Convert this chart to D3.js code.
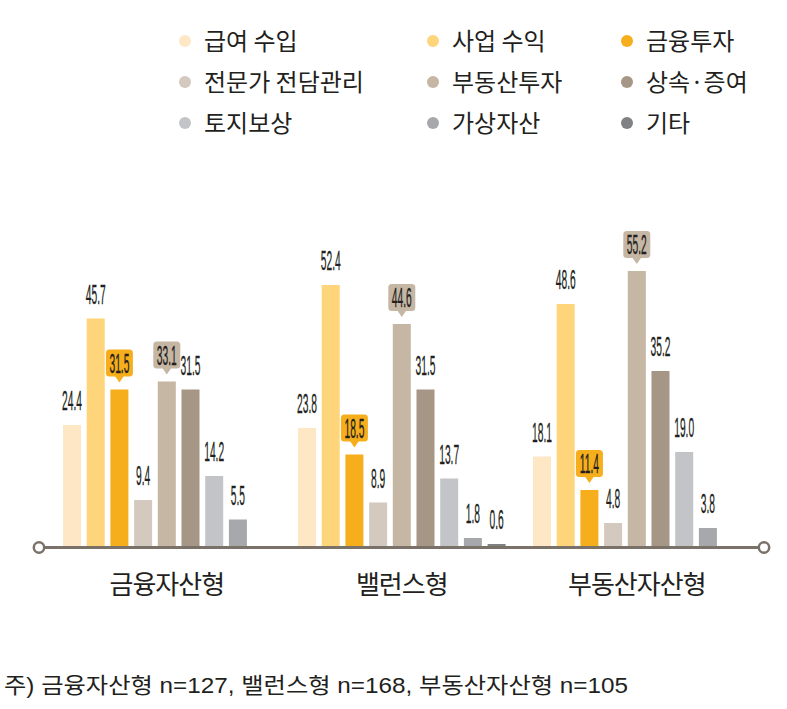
<!DOCTYPE html>
<html><head><meta charset="utf-8">
<script src="https://cdn.jsdelivr.net/npm/d3@7"></script>
<style>
html,body{margin:0;padding:0;background:#fff;}
svg{display:block;}
</style></head>
<body>
<svg id="chart" width="787" height="709"></svg>
<script>
const groups = ["금융자산형", "밸런스형", "부동산자산형"];
const series = ["급여 수입", "사업 수익", "금융투자", "전문가 전담관리", "부동산투자", "상속·증여", "토지보상", "가상자산", "기타"];
// values per series, in group order (null = not shown)
const v_salary   = [24.4, 23.8, 18.1];
const v_business = [45.7, 52.4, 48.6];
const v_finance  = [31.5, 18.5, 11.4];
const v_expert   = [9.4, 8.9, 4.8];
const v_realty   = [33.1, 44.6, 55.2];
const v_inherit  = [31.5, 31.5, 35.2];
const v_land     = [14.2, 13.7, 19.0];
const v_crypto   = [5.5, 1.8, 3.8];
const v_etc      = [null, 0.6, null];
const footnote = "주) 금융자산형 n=127, 밸런스형 n=168, 부동산자산형 n=105";
const calloutSeries = ["금융투자", "부동산투자"];

const colors = ["#fde7c5", "#fed57b", "#f6ae1d", "#d3c9bf", "#c6b6a4", "#a69686", "#c3c4c8", "#a7a8ac", "#808184"];
const allValues = [v_salary, v_business, v_finance, v_expert, v_realty, v_inherit, v_land, v_crypto, v_etc];

const svg = d3.select("#chart");
const textColor = "#231f20";
const krFont = "'Noto Sans CJK KR', 'Noto Sans', sans-serif";
const mixFont = "'Liberation Sans', 'Noto Sans CJK KR', sans-serif";
const numFont = "'Liberation Sans', Arial, sans-serif";

// scales
const x0 = d3.scaleBand().domain(groups).range([52, 757]).paddingInner(0);
const x1 = d3.scaleBand().domain(series).range([11, 218.6]).paddingInner(0.24).paddingOuter(0);
const y = d3.scaleLinear().domain([0, 60]).range([547, 247]);

// legend
const legCols = [185, 433, 627];
const legRows = [41, 82, 123];
const leg = svg.append("g");
series.forEach((s, i) => {
  const cx = legCols[i % 3], cy = legRows[Math.floor(i / 3)];
  leg.append("circle").attr("cx", cx).attr("cy", cy).attr("r", 6).attr("fill", colors[i]);
  leg.append("text").attr("x", cx + 19).attr("y", cy + 9)
    .attr("font-family", krFont).attr("font-size", 24)
    .attr("fill", textColor).text(s);
});

// bars
const data = [];
groups.forEach((g, gi) => {
  series.forEach((s, si) => {
    const v = allValues[si][gi];
    if (v !== null && v !== undefined) data.push({g, s, si, v});
  });
});

const bars = svg.append("g");
bars.selectAll("rect").data(data).join("rect")
  .attr("x", d => x0(d.g) + x1(d.s))
  .attr("y", d => y(d.v))
  .attr("width", x1.bandwidth())
  .attr("height", d => y(0) - y(d.v))
  .attr("fill", d => colors[d.si]);

// labels
const labels = svg.append("g");
data.forEach(d => {
  const cx = x0(d.g) + x1(d.s) + x1.bandwidth() / 2;
  const top = y(d.v);
  const isCallout = calloutSeries.includes(d.s);
  let ty;
  if (isCallout) {
    const bw = 27, bh = 27, tipGap = 7, triH = 6;
    const boxBottom = top - tipGap - triH;
    labels.append("rect").attr("x", cx - bw / 2).attr("y", boxBottom - bh)
      .attr("width", bw).attr("height", bh).attr("rx", 3.5).attr("fill", colors[d.si]);
    labels.append("path")
      .attr("d", `M${cx - 4.5},${boxBottom - 0.5} L${cx + 4.5},${boxBottom - 0.5} L${cx},${boxBottom + triH} Z`)
      .attr("fill", colors[d.si]);
    ty = boxBottom - 4;
  } else {
    ty = top - 15;
  }
  labels.append("text").attr("transform", `translate(${cx},${ty}) scale(0.38,1)`)
    .attr("text-anchor", "middle").attr("font-family", numFont).attr("font-size", 27)
    .attr("fill", textColor).attr("stroke", textColor).attr("stroke-width", 0.3)
    .text(d.v.toFixed(1));
});

// axis line
const axisColor = "#7a7169";
svg.append("line").attr("x1", 39).attr("x2", 764).attr("y1", 547.5).attr("y2", 547.5)
  .attr("stroke", axisColor).attr("stroke-width", 3);
[39, 764].forEach(cx => {
  svg.append("circle").attr("cx", cx).attr("cy", 547.5).attr("r", 5.2)
    .attr("fill", "#fff").attr("stroke", axisColor).attr("stroke-width", 2.5);
});

// category labels
svg.append("g").selectAll("text").data(groups).join("text")
  .attr("x", d => x0(d) + 11 + 207.6 / 2)
  .attr("y", 594)
  .attr("text-anchor", "middle")
  .attr("font-family", krFont).attr("font-size", 26).attr("letter-spacing", -1)
  .attr("fill", textColor).text(d => d);

// footnote
svg.append("text").attr("x", 4).attr("y", 693)
  .attr("font-family", mixFont).attr("font-size", 22)
  .attr("textLength", 624).attr("lengthAdjust", "spacingAndGlyphs")
  .attr("fill", textColor).text(footnote);
</script>
</body></html>
